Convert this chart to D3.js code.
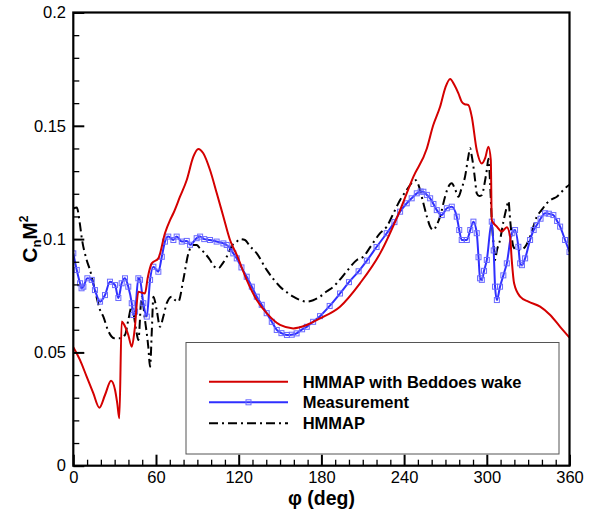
<!DOCTYPE html>
<html>
<head>
<meta charset="utf-8">
<script src="https://cdn.jsdelivr.net/npm/d3@7"></script>
<style>
  html, body { margin: 0; padding: 0; background: #fff; }
  svg { display: block; font-family: "Liberation Sans", Arial, sans-serif; }
</style>
</head>
<body>
<svg id="chart" width="594" height="510"></svg>
<script>
// Azimuth angle (deg) and normal-force coefficient CnM^2 for each series
const beddoesPhi = [0, 4.9, 9.7, 14.5, 18.9, 23, 27.4, 30.3, 31.9, 33.4, 35.1, 36.3, 39.9, 42.4, 44.5, 47.2, 49, 52, 54, 56.9, 61.7, 66.5, 70.2, 72.6, 77.4, 82.3, 87.1, 90.7, 94.3, 99.2, 104.1, 108.9, 113.7, 118.6, 125.8, 133.1, 140.3, 150, 159.6, 169.4, 179, 193.5, 208, 222.6, 237.1, 246.7, 256.5, 261, 266.1, 270, 273.4, 276.5, 279.4, 281.8, 284, 286.6, 289.1, 292.7, 296.4, 298.8, 301.2, 302.9, 303.6, 307.3, 310.9, 314.5, 316.9, 318.1, 319.8, 324.2, 330.2, 338.7, 346, 353.2, 360];
const beddoesCn = [0.0523, 0.0466, 0.0393, 0.0320, 0.0256, 0.0312, 0.0375, 0.0334, 0.0275, 0.0209, 0.0636, 0.0628, 0.0577, 0.0525, 0.0600, 0.0768, 0.0765, 0.0760, 0.0830, 0.0893, 0.0915, 0.1026, 0.1084, 0.1114, 0.1187, 0.1261, 0.1364, 0.1398, 0.1379, 0.1305, 0.1202, 0.1099, 0.0996, 0.0930, 0.0820, 0.0731, 0.0673, 0.0621, 0.0606, 0.0621, 0.0650, 0.0702, 0.0805, 0.0937, 0.1128, 0.1275, 0.1400, 0.1500, 0.1584, 0.1670, 0.1707, 0.1680, 0.1643, 0.1606, 0.1595, 0.1592, 0.1540, 0.1393, 0.1334, 0.1357, 0.1408, 0.1349, 0.1084, 0.1055, 0.1033, 0.1052, 0.1011, 0.0908, 0.0805, 0.0746, 0.0724, 0.0702, 0.0665, 0.0613, 0.0565];

const measPhi = [0, 2.5, 4.9, 6, 7.3, 10.2, 13.4, 15.7, 19.4, 23, 26.6, 30.3, 32.7, 35.1, 37.5, 39.9, 42.4, 43.5, 44.8, 47.2, 48.4, 50.8, 53.3, 55.7, 58.1, 61.7, 64.2, 66.5, 68.9, 72.6, 75, 78.7, 82.3, 84.7, 89.5, 92, 95, 99.2, 104, 108.9, 111.3, 113.7, 116.1, 118.6, 122, 125.8, 129.5, 133.1, 136.7, 140.3, 144, 147.6, 151, 155, 158.5, 162, 166, 169.4, 174, 179, 186, 193.5, 200, 207, 213, 220, 227.4, 233, 237.1, 241.9, 245.5, 249.2, 252, 254, 256.5, 258.9, 261.3, 263.7, 267.3, 271, 274.6, 278.2, 280, 281.8, 285.5, 288, 290.3, 292.7, 294, 295.1, 296.4, 298, 300, 303.6, 305, 306, 307.3, 309.6, 312, 314.5, 318.1, 320.5, 322.9, 324.2, 325.5, 327.8, 331.4, 334, 336.3, 339, 342.3, 345, 348.3, 351, 353.2, 356.8, 360];
const measCn = [0.0937, 0.0864, 0.0805, 0.0783, 0.0790, 0.0827, 0.0820, 0.0775, 0.0724, 0.0753, 0.0812, 0.0797, 0.0740, 0.0805, 0.0827, 0.0790, 0.0717, 0.0665, 0.0680, 0.0827, 0.0820, 0.0717, 0.0658, 0.0820, 0.0878, 0.0856, 0.0922, 0.0989, 0.1011, 0.0996, 0.1011, 0.0989, 0.0992, 0.0975, 0.1004, 0.1011, 0.1000, 0.0996, 0.0989, 0.0981, 0.0974, 0.0959, 0.0937, 0.0915, 0.0875, 0.0834, 0.0790, 0.0746, 0.0710, 0.0673, 0.0635, 0.0599, 0.0585, 0.0577, 0.0578, 0.0584, 0.0602, 0.0613, 0.0635, 0.0660, 0.0705, 0.0760, 0.0810, 0.0858, 0.0905, 0.0965, 0.1026, 0.1075, 0.1121, 0.1158, 0.1180, 0.1202, 0.1210, 0.1209, 0.1195, 0.1180, 0.1155, 0.1128, 0.1106, 0.1136, 0.1143, 0.1099, 0.1040, 0.0996, 0.0996, 0.1040, 0.1077, 0.1026, 0.0920, 0.0827, 0.0820, 0.0860, 0.0908, 0.1077, 0.0950, 0.0790, 0.0731, 0.0790, 0.0840, 0.0893, 0.1026, 0.1040, 0.0966, 0.0893, 0.0885, 0.0915, 0.0996, 0.1040, 0.1062, 0.1090, 0.1114, 0.1112, 0.1106, 0.1080, 0.1055, 0.0996, 0.0943];

const hmmapPhi = [0, 2.5, 4.9, 6, 9.7, 12.1, 15.7, 19.4, 21.8, 25, 27.9, 30, 33.9, 37.5, 39.9, 42.4, 44, 46, 47.2, 49.6, 52, 54.4, 55.7, 57, 58.1, 60.5, 62.9, 65.3, 67.8, 71.4, 74, 76.2, 79.8, 83.5, 87.1, 89.5, 91.9, 95, 99.2, 102, 105.2, 108, 111.3, 115, 118.6, 121, 124.6, 128, 133.1, 140.3, 145, 150, 155, 159.6, 164.5, 169.4, 174, 179, 184, 188.7, 191.1, 198, 205.7, 210.4, 216, 222.6, 227.4, 232, 237.1, 241.9, 244.5, 246.7, 248.5, 250.4, 254, 256.5, 258.9, 261.3, 263.5, 266.1, 269.7, 272.1, 274.6, 277, 279.4, 281.5, 284.2, 286.5, 287.9, 289, 290.3, 291.5, 292.7, 294.5, 296.4, 298.5, 300, 301.2, 302.4, 303.6, 305, 306, 307.3, 309.6, 312, 314.5, 315.7, 317, 319.3, 322, 324.2, 327.8, 331.4, 336.3, 340, 343.5, 347, 350.8, 354.5, 358, 360];
const hmmapCn = [0.1135, 0.1140, 0.1062, 0.1011, 0.0908, 0.0864, 0.0775, 0.0687, 0.0658, 0.0600, 0.0569, 0.0562, 0.0562, 0.0577, 0.0643, 0.0702, 0.0660, 0.0584, 0.0555, 0.0746, 0.0643, 0.0525, 0.0437, 0.0600, 0.0746, 0.0687, 0.0613, 0.0658, 0.0717, 0.0746, 0.0730, 0.0724, 0.0820, 0.0937, 0.0974, 0.0974, 0.0959, 0.0940, 0.0908, 0.0880, 0.0871, 0.0890, 0.0922, 0.0970, 0.0989, 0.1000, 0.0996, 0.0970, 0.0937, 0.0864, 0.0825, 0.0790, 0.0765, 0.0746, 0.0731, 0.0724, 0.0730, 0.0746, 0.0770, 0.0790, 0.0805, 0.0855, 0.0908, 0.0922, 0.0970, 0.1026, 0.1055, 0.1110, 0.1173, 0.1217, 0.1240, 0.1258, 0.1260, 0.1239, 0.1158, 0.1100, 0.1055, 0.1040, 0.1060, 0.1099, 0.1187, 0.1231, 0.1246, 0.1220, 0.1187, 0.1220, 0.1275, 0.1360, 0.1401, 0.1370, 0.1320, 0.1260, 0.1202, 0.1190, 0.1195, 0.1250, 0.1305, 0.1355, 0.1246, 0.1084, 0.0970, 0.0908, 0.0950, 0.0996, 0.1075, 0.1143, 0.1168, 0.1080, 0.0966, 0.0950, 0.0952, 0.0966, 0.1011, 0.1099, 0.1130, 0.1158, 0.1175, 0.1187, 0.1210, 0.1231, 0.1240];

const xTicks = [0, 60, 120, 180, 240, 300, 360];
const yTicks = [0, 0.05, 0.1, 0.15, 0.2];
const yTickLabels = ["0", "0.05", "0.1", "0.15", "0.2"];
const legendLabels = ["HMMAP with Beddoes wake", "Measurement", "HMMAP"];

const svg = d3.select("#chart");
const plot = { left: 73.3, right: 569.5, top: 12.5, bottom: 465.7 };

const x = d3.scaleLinear().domain([0, 360]).range([plot.left, plot.right]);
const y = d3.scaleLinear().domain([0, 0.2]).range([plot.bottom, plot.top]);

const red = "#d40000", blue = "#2f2fff", black = "#000";

// Clip series to the plotting frame
svg.append("defs").append("clipPath").attr("id", "plotClip")
  .append("rect")
  .attr("x", plot.left).attr("y", plot.top)
  .attr("width", plot.right - plot.left).attr("height", plot.bottom - plot.top);

const line = d3.line()
  .x(d => x(d[0]))
  .y(d => y(d[1]))
  .curve(d3.curveMonotoneX);

const zip = (a, b) => a.map((v, i) => [v, b[i]]);
const beddoes = zip(beddoesPhi, beddoesCn);
const meas = zip(measPhi, measCn);
const hmmap = zip(hmmapPhi, hmmapCn);

const series = svg.append("g").attr("clip-path", "url(#plotClip)");

series.append("path").datum(hmmap)
  .attr("d", line).attr("fill", "none")
  .attr("stroke", black).attr("stroke-width", 2)
  .attr("stroke-dasharray", "9,4,2,4");

series.append("path").datum(meas)
  .attr("d", line).attr("fill", "none")
  .attr("stroke", blue).attr("stroke-width", 2);

series.append("g").selectAll("rect").data(meas).join("rect")
  .attr("x", d => x(d[0]) - 2.5).attr("y", d => y(d[1]) - 2.5)
  .attr("width", 5).attr("height", 5)
  .attr("fill", "none").attr("stroke", "#6a6aff").attr("stroke-width", 1);

series.append("path").datum(beddoes)
  .attr("d", line).attr("fill", "none")
  .attr("stroke", red).attr("stroke-width", 2);

// Axes with inward ticks
const tickFont = 16.5;
const xAxis = svg.append("g").attr("transform", `translate(0,${plot.bottom})`)
  .call(d3.axisBottom(x).tickValues(xTicks).tickSize(-11).tickSizeOuter(0).tickPadding(5.5).tickFormat(d3.format("d")));
const xMinor = svg.append("g").attr("transform", `translate(0,${plot.bottom})`)
  .call(d3.axisBottom(x).tickValues(d3.range(0, 361, 10).filter(v => v % 60 !== 0)).tickSize(-6).tickSizeOuter(0).tickFormat(""));
const yAxis = svg.append("g").attr("transform", `translate(${plot.left},0)`)
  .call(d3.axisLeft(y).tickValues(yTicks).tickSize(-11).tickSizeOuter(0).tickPadding(7.3)
    .tickFormat((d, i) => yTickLabels[i]));
const yMinor = svg.append("g").attr("transform", `translate(${plot.left},0)`)
  .call(d3.axisLeft(y).tickValues(d3.range(1, 20).filter(v => v % 5 !== 0).map(v => v / 100)).tickSize(-6).tickSizeOuter(0).tickFormat(""));

[xAxis, xMinor, yAxis, yMinor].forEach(g => {
  g.select(".domain").remove();
  g.selectAll(".tick line").attr("stroke", "#000").attr("stroke-width", 1.3);
  g.selectAll("text").attr("font-size", tickFont)
    .attr("font-family", "'Liberation Sans', Arial, sans-serif").attr("fill", "#000");
});
[xAxis, yAxis].forEach(g => g.selectAll(".tick line").attr("stroke-width", 2));

// Plot frame
svg.append("rect")
  .attr("x", plot.left).attr("y", plot.top)
  .attr("width", plot.right - plot.left).attr("height", plot.bottom - plot.top)
  .attr("fill", "none").attr("stroke", "#000").attr("stroke-width", 2.2);

// Axis titles
svg.append("text")
  .attr("x", (plot.left + plot.right) / 2).attr("y", 505)
  .attr("text-anchor", "middle").attr("font-weight", "bold").attr("font-size", 19.5)
  .text("φ (deg)");

const yTitle = svg.append("text")
  .attr("transform", `translate(37,${(plot.top + plot.bottom) / 2}) rotate(-90)`)
  .attr("text-anchor", "middle").attr("font-weight", "bold").attr("font-size", 21);
yTitle.append("tspan").text("C");
yTitle.append("tspan").attr("font-size", 13).attr("dy", 4).text("n");
yTitle.append("tspan").attr("dy", -4).text("M");
yTitle.append("tspan").attr("font-size", 12).attr("dy", -9).text("2");

// Legend
const legend = svg.append("g");
legend.append("rect")
  .attr("x", 186).attr("y", 342.5).attr("width", 373).attr("height", 111.5)
  .attr("fill", "#fff").attr("stroke", "#555").attr("stroke-width", 1);

const legendRows = [
  { label: legendLabels[0], color: red, dash: null, marker: false, y: 381.7 },
  { label: legendLabels[1], color: blue, dash: null, marker: true, y: 402.3 },
  { label: legendLabels[2], color: black, dash: "9,4,2,4", marker: false, y: 423.3 }
];
legendRows.forEach(r => {
  legend.append("line")
    .attr("x1", 209).attr("x2", 288).attr("y1", r.y).attr("y2", r.y)
    .attr("stroke", r.color).attr("stroke-width", 2)
    .attr("stroke-dasharray", r.dash);
  if (r.marker) {
    legend.append("rect")
      .attr("x", 248.5 - 2.5).attr("y", r.y - 2.5).attr("width", 5).attr("height", 5)
      .attr("fill", "none").attr("stroke", "#6a6aff").attr("stroke-width", 1);
  }
  legend.append("text")
    .attr("x", 302.7).attr("y", r.y + 6)
    .attr("font-weight", "bold").attr("font-size", 16.5)
    .text(r.label);
});
</script>
</body>
</html>
